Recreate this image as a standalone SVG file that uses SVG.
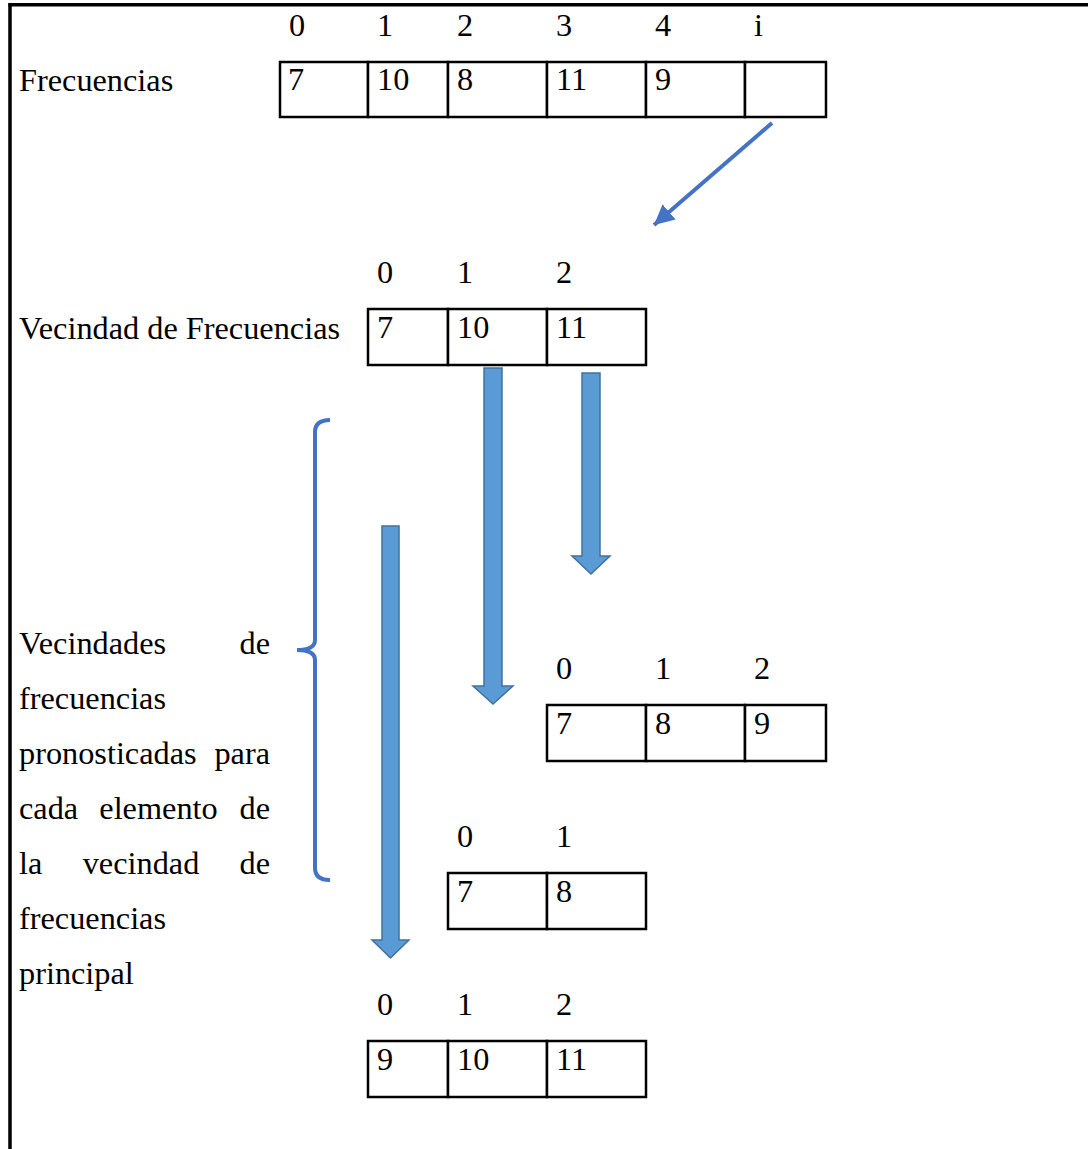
<svg xmlns="http://www.w3.org/2000/svg" width="1088" height="1149" viewBox="0 0 1088 1149">
<style>
text{font-family:"Liberation Serif","Times New Roman",serif;font-size:32.3px;fill:#000}
.cell{fill:#fff;stroke:#000;stroke-width:2.5}
.barrow{fill:#5B9BD5;stroke:#41719C;stroke-width:1.5}
.blue{fill:none;stroke:#4472C4;stroke-width:4}
.end{text-anchor:end}
.mid{text-anchor:middle}
</style>
<defs>
<marker id="ah" markerUnits="userSpaceOnUse" markerWidth="24" markerHeight="24" refX="20" refY="10" orient="auto">
<path d="M0,0 L20,10 L0,20 Z" fill="#4472C4"/>
</marker>
</defs>
<rect width="1088" height="1149" fill="#fff"/>
<g id="frame">
<line x1="8.5" y1="4.8" x2="1088" y2="4.8" stroke="#000" stroke-width="3.5"/>
<line x1="10" y1="3" x2="10" y2="1149" stroke="#000" stroke-width="3.5"/>
</g>
<g id="frecuencias">
<text x="19" y="91">Frecuencias</text>
<text x="289" y="36">0</text><text x="377" y="36">1</text><text x="457" y="36">2</text><text x="556" y="36">3</text><text x="655" y="36">4</text><text x="754" y="36">i</text>
<rect class="cell" x="280" y="62" width="88" height="55"/>
<rect class="cell" x="368" y="62" width="80" height="55"/>
<rect class="cell" x="448" y="62" width="99" height="55"/>
<rect class="cell" x="547" y="62" width="99" height="55"/>
<rect class="cell" x="646" y="62" width="99" height="55"/>
<rect class="cell" x="745" y="62" width="81" height="55"/>
<text x="288" y="90">7</text><text x="377" y="90">10</text><text x="457" y="90">8</text><text x="556" y="90">11</text><text x="655" y="90">9</text>
</g>
<g id="vecindad">
<text x="19" y="339">Vecindad de Frecuencias</text>
<text x="377" y="283">0</text><text x="457" y="283">1</text><text x="556" y="283">2</text>
<rect class="cell" x="368" y="309" width="80" height="56"/>
<rect class="cell" x="448" y="309" width="99" height="56"/>
<rect class="cell" x="547" y="309" width="99" height="56"/>
<text x="377" y="338">7</text><text x="457" y="338">10</text><text x="556" y="338">11</text>
</g>
<g id="vecindad-1">
<text x="556" y="679">0</text><text x="655" y="679">1</text><text x="754" y="679">2</text>
<rect class="cell" x="547" y="705" width="99" height="56"/>
<rect class="cell" x="646" y="705" width="99" height="56"/>
<rect class="cell" x="745" y="705" width="81" height="56"/>
<text x="556" y="734">7</text><text x="655" y="734">8</text><text x="754" y="734">9</text>
</g>
<g id="vecindad-2">
<text x="457" y="847">0</text><text x="556" y="847">1</text>
<rect class="cell" x="448" y="873" width="99" height="56"/>
<rect class="cell" x="547" y="873" width="99" height="56"/>
<text x="457" y="902">7</text><text x="556" y="902">8</text>
</g>
<g id="vecindad-3">
<text x="377" y="1015">0</text><text x="457" y="1015">1</text><text x="556" y="1015">2</text>
<rect class="cell" x="368" y="1041" width="80" height="56"/>
<rect class="cell" x="448" y="1041" width="99" height="56"/>
<rect class="cell" x="547" y="1041" width="99" height="56"/>
<text x="377" y="1070">9</text><text x="457" y="1070">10</text><text x="556" y="1070">11</text>
</g>
<g id="descripcion">
<text x="19" y="654">Vecindades</text><text class="end" x="270" y="654">de</text>
<text x="19" y="709">frecuencias</text>
<text x="19" y="764">pronosticadas</text><text class="end" x="270" y="764">para</text>
<text x="19" y="819">cada</text><text class="mid" x="158.5" y="819">elemento</text><text class="end" x="270" y="819">de</text>
<text x="19" y="874">la</text><text class="mid" x="141" y="874">vecindad</text><text class="end" x="270" y="874">de</text>
<text x="19" y="929">frecuencias</text>
<text x="19" y="984">principal</text>
</g>
<g id="connectors">
<line class="blue" x1="772" y1="123" x2="654" y2="225" marker-end="url(#ah)"/>
<path class="blue" d="M330,420 Q315,420 315,432 L315,640 Q315,650 297,650 Q315,650 315,660 L315,868 Q315,880 330,880"/>
<polygon class="barrow" points="484,368 502,368 502,686 513,686 493,704 473,686 484,686"/>
<polygon class="barrow" points="582,373 600,373 600,556 610,556 591,574 572,556 582,556"/>
<polygon class="barrow" points="382,526 399,526 399,940 409,940 390.5,958 372,940 382,940"/>
</g>
</svg>
